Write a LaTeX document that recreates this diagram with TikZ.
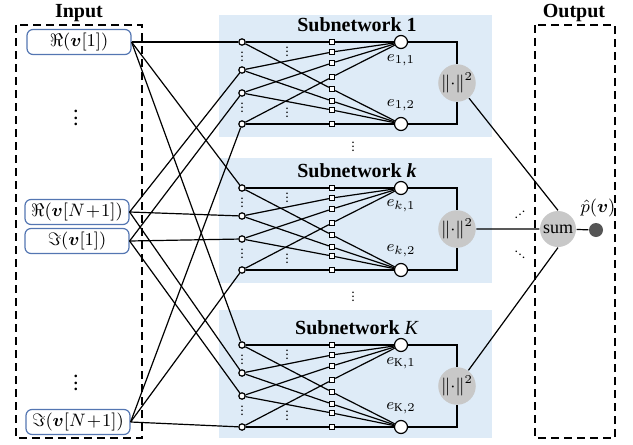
\documentclass[tikz,border=0pt]{standalone}
\usepackage{amsmath}
\usepackage{amssymb}
\usepackage{graphicx}
\usepackage{fontspec}
\setmainfont{Liberation Serif}

\definecolor{subblue}{RGB}{222,235,247}
\definecolor{boxblue}{RGB}{84,118,178}
\definecolor{normgray}{RGB}{200,200,200}
\definecolor{dotgray}{RGB}{85,85,85}
\newcommand{\vdt}{\vbox{\baselineskip4pt\lineskiplimit0pt\hbox{.}\hbox{.}\hbox{.}}}

\begin{document}
\begin{tikzpicture}[x=0.5pt,y=-0.5pt,line width=0.6pt,
		inbox/.style={draw=boxblue,rounded corners=3pt,minimum width=52pt,minimum height=12.5pt,inner sep=0pt,font=\small},
		unit/.style={circle,draw,fill=white,minimum size=3.2pt,inner sep=0pt},
		wgt/.style={draw,fill=white,minimum size=2.6pt,inner sep=0pt},
		outu/.style={circle,draw,fill=white,minimum size=6.5pt,inner sep=0pt},
		normc/.style={circle,fill=normgray,minimum size=18pt,inner sep=0pt,font=\small},
		dashbox/.style={line width=0.7pt,dash pattern=on 4pt off 2.5pt},
		dts/.style={inner sep=0pt}]
	\useasboundingbox (0,0) rectangle (633,445);

	% blue backgrounds of the subnetworks
	\foreach \ya/\yb in {15/137,158/283,310/438}
		\fill[subblue] (219,\ya) rectangle (492,\yb);

	% input
	\draw[dashbox] (16,25) rectangle (142,438);
	\node[font=\bfseries] (inlab) at (79,13) {Input};
	\node[inbox] (A) at (79,42) {$\Re(\boldsymbol{v}[1])$};
	\node[inbox] (B) at (77,212) {$\Re(\boldsymbol{v}[N\mkern1mu{+}\mkern1mu1])$};
	\node[inbox] (C) at (77,241) {$\Im(\boldsymbol{v}[1])$};
	\node[inbox] (D) at (78,422) {$\Im(\boldsymbol{v}[N\mkern1mu{+}\mkern1mu1])$};
	\node[dts] (ind1) at (76,118) {\scalebox{0.8}{\bfseries\vdt}};
	\node[dts] (ind2) at (76,383) {\scalebox{0.8}{\bfseries\vdt}};

	% output
	\draw[dashbox] (535,25) rectangle (615,438);
	\node[font=\bfseries] (outlab) at (574,13) {Output};
	\node[normc] (sum) at (558,229) {sum};
	\node[circle,fill=dotgray,minimum size=7pt,inner sep=0pt] (p) at (596,230) {};
	\node[font=\small] (plab) at (598,208) {$\hat{p}(\boldsymbol{v})$};
	\draw (sum) -- (p);

	% subnetworks
	\foreach \s/\y/\t/\e in {1/42/1/1,k/188/{\textit{k}}/k,K/345/{\textmd{\textit{K}}}/\mathrm{K}}{
		\node[font=\bfseries] (\s-t) at (357,\y-17) {Subnetwork \t};
		\node[unit] (\s-n1) at (242,\y) {};
		\node[unit] (\s-n2) at (242,\y+28) {};
		\node[unit] (\s-n3) at (242,\y+51) {};
		\node[unit] (\s-n4) at (242,\y+82) {};
		\foreach \j/\d in {1/0,2/10,3/21,4/35,5/47,6/59,7/68,8/82}
			\node[wgt] (\s-q\j) at (332,\y+\d) {};
		\node[outu] (\s-o1) at (401,\y) {};
		\node[outu] (\s-o2) at (401,\y+82) {};
		\node[font=\footnotesize] (\s-l1) at (401,\y+18) {$e_{\e,1}$};
		\node[font=\footnotesize] (\s-l2) at (401,\y+63) {$e_{\e,2}$};
		\node[normc] (\s-m) at (457,\y+41) {$\|{\cdot}\|^2$};
		\node[dts] (\s-d1) at (242,\y+15) {\scalebox{0.5}{\bfseries\vdt}};
		\node[dts] (\s-d2) at (242,\y+66) {\scalebox{0.5}{\bfseries\vdt}};
		\node[dts] (\s-d3) at (287,\y+10) {\scalebox{0.5}{\bfseries\vdt}};
		\node[dts] (\s-d4) at (287,\y+71) {\scalebox{0.5}{\bfseries\vdt}};
		\foreach \j in {1,...,4}{
			\pgfmathtruncatemacro{\jj}{\j+4}
			\path (\s-n\j) edge (\s-q\j) edge (\s-q\jj)
				(\s-q\j) edge (\s-o1) (\s-q\jj) edge (\s-o2);
		}
		\path (A.east) edge (\s-n1) (B.east) edge (\s-n2) (C.east) edge (\s-n3) (D.east) edge (\s-n4);
		\draw (\s-o1) -| (\s-m) (\s-o2) -| (\s-m);
	}

	% dots between the parts
	\node[dts] (gap1) at (353,147) {\scalebox{0.5}{\bfseries\vdt}};
	\node[dts] (gap2) at (353,297) {\scalebox{0.5}{\bfseries\vdt}};
	\node[dts] (dd1) at (520,212) {\scalebox{0.5}{\bfseries\reflectbox{$\ddots$}}};
	\node[dts] (dd2) at (520,252) {\scalebox{0.5}{\bfseries$\ddots$}};

	\draw (1-m) -- (sum.north) (k-m) -- (sum) (K-m) -- (sum.south);
\end{tikzpicture}
\end{document}
